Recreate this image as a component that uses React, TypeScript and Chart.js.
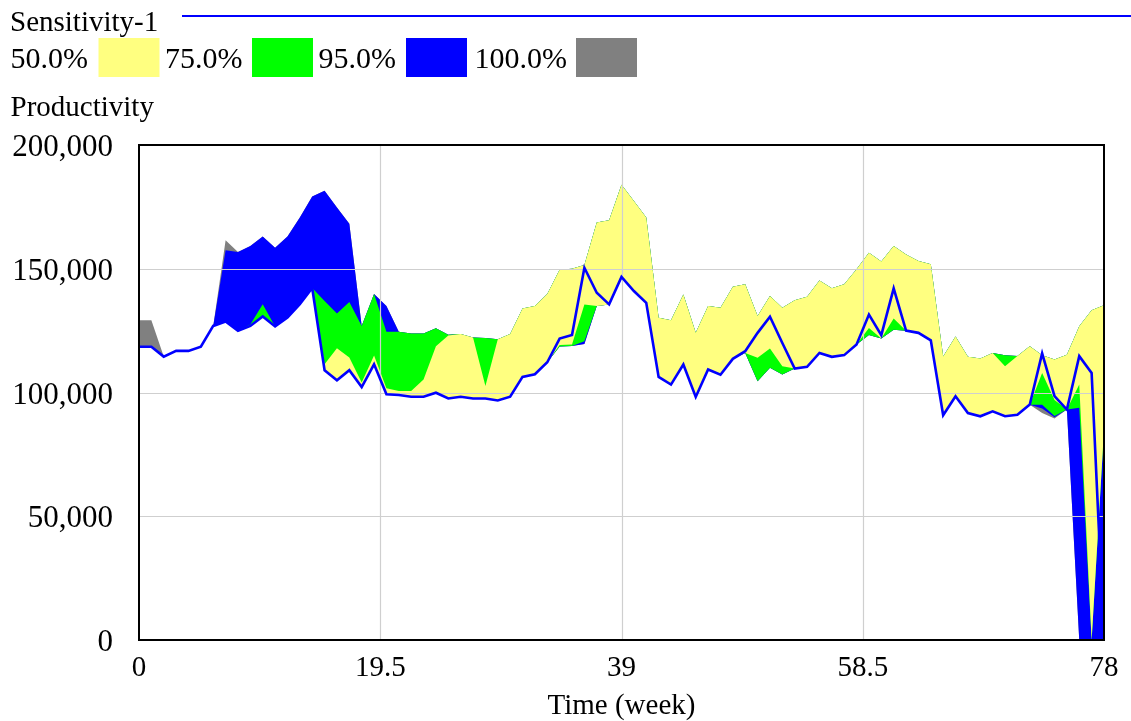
import React, { useEffect, useRef } from "react";
import { Chart, registerables } from "chart.js";

Chart.register(...registerables);

// Time axis (week)
const weeks = [
  0, 1, 2, 3, 4, 5, 6, 7, 8, 9, 10, 11, 12, 13, 14, 15, 16, 17, 18, 19,
  20, 21, 22, 23, 24, 25, 26, 27, 28, 29, 30, 31, 32, 33, 34, 35, 36, 37, 38, 39,
  40, 41, 42, 43, 44, 45, 46, 47, 48, 49, 50, 51, 52, 53, 54, 55, 56, 57, 58, 59,
  60, 61, 62, 63, 64, 65, 66, 67, 68, 69, 70, 71, 72, 73, 74, 75, 76, 77, 78,
];

const xTickValues = [0, 19.5, 39, 58.5, 78];
const yTickValues = [0, 50000, 100000, 150000, 200000];

// Base run: Sensitivity-1 Productivity
const baseLine = [
  118500, 118500, 114500, 116800, 116800, 118500, 126900, 128700, 124900, 126900,
  130700, 126700, 130300, 135700, 142200, 109000, 104900, 109000, 102200, 111400,
  99300, 99000, 98300, 98300, 99900, 97600, 98300, 97600, 97600, 96800,
  98300, 106300, 107400, 112200, 121800, 123200, 150400, 140300, 135600, 146700,
  141000, 136200, 106300, 103200, 111300, 98200, 109300, 107200, 113600, 116700,
  124100, 130600, 120000, 109700, 110400, 116000, 114400, 115100, 119400, 131500,
  123200, 142100, 125000, 124100, 121100, 90800, 98500, 91700, 90400, 92400,
  90400, 91000, 95100, 115800, 98500, 93100, 114700, 107900, 0,
];

// 50% band
const yellowHigh = [
  118500, 118500, 114500, 116800, 116800, 118500, 126900, 128700, 124900, 126900,
  130700, 126700, 130300, 135700, 142200, 111400, 117900, 114100, 104000, 115000,
  101700, 100600, 100600, 105300, 118700, 123000, 123600, 122200, 102600, 121500,
  123600, 133900, 135000, 139800, 149600, 150000, 151500, 168700, 169600, 183900,
  177400, 170700, 130200, 129200, 139600, 124100, 134900, 134200, 142700, 143700,
  130900, 139000, 134200, 137300, 138700, 145300, 142100, 143700, 149800, 156500,
  152900, 159200, 155800, 153100, 151800, 114500, 122600, 114400, 113700, 116000,
  110600, 114700, 118700, 115100, 113300, 115300, 126800, 133200, 135300,
];
const yellowLow = [
  118500, 118500, 114500, 116800, 116800, 118500, 126900, 128700, 124900, 126900,
  130700, 126700, 130300, 135700, 142200, 109000, 104900, 109000, 102200, 111400,
  99300, 99000, 98300, 98300, 99900, 97600, 98300, 97600, 97600, 96800,
  98300, 106300, 107400, 112200, 119200, 119400, 135600, 134900, 135600, 146700,
  141000, 136200, 106300, 103200, 111300, 98200, 109300, 107200, 113600, 116000,
  114000, 117800, 110600, 109700, 110400, 116000, 114400, 115100, 119400, 126100,
  121800, 129900, 125000, 124100, 121100, 90800, 98500, 91700, 90400, 92400,
  90400, 91000, 95100, 107900, 97000, 93100, 103200, 0, 85000,
];

// 75% band
const greenHigh = [
  118500, 118500, 114500, 116800, 116800, 118500, 126900, 128700, 124900, 127500,
  135700, 126700, 130300, 135700, 142200, 137000, 131900, 136600, 126900, 139800,
  124500, 124500, 123800, 123800, 126000, 123300, 123600, 122200, 122000, 121500,
  123600, 133900, 135000, 139800, 149600, 150000, 151500, 168700, 169600, 183900,
  177400, 170700, 130200, 129200, 139600, 124100, 134900, 134200, 142700, 143700,
  130900, 139000, 134200, 137300, 138700, 145300, 142100, 143700, 149800, 156500,
  152900, 159200, 155800, 153100, 151800, 114500, 122600, 114400, 113700, 116000,
  115100, 114700, 118700, 115100, 113300, 115300, 126800, 133200, 135300,
];
const greenLow = [
  118500, 118500, 114500, 116800, 116800, 118500, 126900, 128700, 124900, 126900,
  130700, 126700, 130300, 135700, 142200, 109000, 104900, 109000, 102200, 111400,
  99300, 99000, 98300, 98300, 99900, 97600, 98300, 97600, 97600, 96800,
  98300, 106300, 107400, 112200, 118600, 118800, 120700, 134900, 135600, 146700,
  141000, 136200, 106300, 103200, 111300, 98200, 109300, 107200, 113600, 116000,
  104500, 110000, 107300, 109700, 110400, 116000, 114400, 115100, 119400, 123200,
  121800, 125400, 125000, 124100, 121100, 90800, 98500, 91700, 90400, 92400,
  90400, 91000, 95100, 95100, 90500, 93100, 93800, 0, 85000,
];

// 95% band
const blueHigh = [
  118500, 118500, 114500, 116800, 116800, 118500, 126900, 157500, 156800, 159200,
  163000, 158500, 163000, 170700, 179200, 181500, 174700, 168200, 126900, 139800,
  135000, 124500, 123800, 123800, 126000, 123300, 123600, 122200, 122000, 121500,
  123600, 133900, 135000, 139800, 149600, 150000, 151500, 168700, 169600, 183900,
  177400, 170700, 130200, 129200, 139600, 124100, 134900, 134200, 142700, 143700,
  130900, 139000, 134200, 137300, 138700, 145300, 142100, 143700, 149800, 156500,
  152900, 159200, 155800, 153100, 151800, 114500, 122600, 114400, 113700, 116000,
  115100, 114700, 118700, 115100, 113300, 115300, 126800, 133200, 135300,
];
const blueLow = [
  118500, 118500, 114500, 116800, 116800, 118500, 126900, 128700, 124900, 126900,
  130700, 126700, 130300, 135700, 142200, 109000, 104900, 109000, 102200, 111400,
  99300, 99000, 98300, 98300, 99900, 97600, 98300, 97600, 97600, 96800,
  98300, 106300, 107400, 112200, 118600, 118800, 119600, 134900, 135600, 146700,
  141000, 136200, 106300, 103200, 111300, 98200, 109300, 107200, 113600, 116000,
  104500, 110000, 107300, 109700, 110400, 116000, 114400, 115100, 119400, 123200,
  121800, 125400, 125000, 124100, 121100, 90800, 98500, 91700, 90400, 92400,
  90400, 91000, 95100, 93500, 90000, 93100, 0, 0, 0,
];

// 100% band
const grayHigh = [
  129200, 129200, 114500, 116800, 116800, 118500, 126900, 161500, 156800, 159200,
  163000, 158500, 163000, 170700, 179200, 181500, 174700, 168200, 126900, 139800,
  135000, 124500, 123800, 123800, 126000, 123300, 123600, 122200, 122000, 121500,
  123600, 133900, 135000, 139800, 149600, 150000, 151500, 168700, 169600, 183900,
  177400, 170700, 130200, 129200, 139600, 124100, 134900, 134200, 142700, 143700,
  130900, 139000, 134200, 137300, 138700, 145300, 142100, 143700, 149800, 156500,
  152900, 159200, 155800, 153100, 151800, 114500, 122600, 114400, 113700, 116000,
  115100, 114700, 118700, 115100, 113300, 115300, 126800, 133200, 135300,
];
const grayLow = [
  118500, 118500, 114500, 116800, 116800, 118500, 126900, 128700, 124900, 126900,
  130700, 126700, 130300, 135700, 142200, 109000, 104900, 109000, 102200, 111400,
  99300, 99000, 98300, 98300, 99900, 97600, 98300, 97600, 97600, 96800,
  98300, 106300, 107400, 112200, 118600, 118800, 119600, 134900, 135600, 146700,
  141000, 136200, 106300, 103200, 111300, 98200, 109300, 107200, 113600, 116000,
  104500, 110000, 107300, 109700, 110400, 116000, 114400, 115100, 119400, 123200,
  121800, 125400, 125000, 124100, 121100, 90800, 98500, 91700, 90400, 92400,
  90400, 91000, 95100, 91700, 89500, 93100, 0, 0, 0,
];

const legendLabels = ["50.0%", "75.0%", "95.0%", "100.0%"];
const legendColors = ["#FFFF80", "#00FF00", "#0000FF", "#808080"];
const legendTextX = [10.5, 165, 318.5, 474.5];
const legendBoxX = [98.5, 252, 406, 576];

const FONT = '"Liberation Serif", "Times New Roman", serif';
const FONT_SIZE = 29;

function band(data: number[], color: string, fill: string | boolean) {
  return {
    data,
    borderColor: "rgba(0,0,0,0)",
    borderWidth: 0,
    backgroundColor: color,
    pointRadius: 0,
    pointHoverRadius: 0,
    tension: 0,
    fill,
  };
}

export default function App() {
  const canvasRef = useRef<HTMLCanvasElement | null>(null);

  useEffect(() => {
    const canvas = canvasRef.current;
    if (!canvas) return;

    const overlay = {
      id: "vensimOverlay",
      beforeDatasetDraw(chart: any, args: any) {
        if (args.index !== 0) return;
        const { ctx, chartArea } = chart;
        const xs = chart.scales.x;
        const ys = chart.scales.y;
        ctx.save();
        ctx.strokeStyle = "#cfcfcf";
        ctx.lineWidth = 1.2;
        ctx.beginPath();
        for (const v of xTickValues) {
          if (v === 0 || v === 78) continue;
          const px = Math.round(xs.getPixelForValue(v)) + 0.5;
          ctx.moveTo(px, chartArea.top);
          ctx.lineTo(px, chartArea.bottom);
        }
        for (const v of yTickValues) {
          if (v === 0 || v === 200000) continue;
          const py = Math.round(ys.getPixelForValue(v)) + 0.5;
          ctx.moveTo(chartArea.left, py);
          ctx.lineTo(chartArea.right, py);
        }
        ctx.stroke();
        ctx.restore();
      },
      afterDraw(chart: any) {
        const { ctx, chartArea } = chart;
        ctx.save();
        // plot frame
        ctx.strokeStyle = "#000";
        ctx.lineWidth = 2;
        ctx.strokeRect(chartArea.left, chartArea.top, chartArea.right - chartArea.left, chartArea.bottom - chartArea.top);

        ctx.fillStyle = "#000";
        ctx.font = `${FONT_SIZE}px ${FONT}`;
        ctx.textBaseline = "alphabetic";
        ctx.textAlign = "left";
        ctx.fillText("Sensitivity-1", 10, 31);

        ctx.strokeStyle = "#0000FF";
        ctx.lineWidth = 2;
        ctx.beginPath();
        ctx.moveTo(182, 16);
        ctx.lineTo(1131, 16);
        ctx.stroke();

        ctx.font = `30px ${FONT}`;
        for (let i = 0; i < legendLabels.length; i++) {
          ctx.fillStyle = "#000";
          ctx.fillText(legendLabels[i], legendTextX[i], 68);
          ctx.fillStyle = legendColors[i];
          ctx.fillRect(legendBoxX[i], 38, 61, 39);
        }

        ctx.font = `${FONT_SIZE}px ${FONT}`;
        ctx.fillStyle = "#000";
        ctx.fillText("Productivity", 10.5, 116);

        ctx.textAlign = "center";
        ctx.fillText("Time (week)", (chartArea.left + chartArea.right) / 2, 714);
        ctx.restore();
      },
    };

    const chart = new Chart(canvas, {
      type: "line",
      data: {
        labels: weeks,
        datasets: [
          {
            data: baseLine,
            borderColor: "#0000FF",
            borderWidth: 2.6,
            pointRadius: 0,
            pointHoverRadius: 0,
            tension: 0,
            fill: false,
          },
          band(yellowLow, "#FFFF80", false),
          band(yellowHigh, "#FFFF80", "-1"),
          band(greenLow, "#00FF00", false),
          band(greenHigh, "#00FF00", "-1"),
          band(blueLow, "#0000FF", false),
          band(blueHigh, "#0000FF", "-1"),
          band(grayLow, "#808080", false),
          band(grayHigh, "#808080", "-1"),
        ] as any,
      },
      options: {
        responsive: false,
        animation: false,
        devicePixelRatio: 1,
        events: [],
        layout: { padding: { top: 145, right: 27, left: 0, bottom: 0 } },
        plugins: {
          legend: { display: false },
          tooltip: { enabled: false },
          title: { display: false },
        },
        scales: {
          x: {
            type: "linear",
            min: 0,
            max: 78,
            afterBuildTicks: (s: any) => {
              s.ticks = xTickValues.map((v) => ({ value: v }));
            },
            afterFit: (s: any) => {
              s.height = 81;
            },
            ticks: {
              autoSkip: false,
              maxRotation: 0,
              padding: 11,
              color: "#000",
              font: { family: FONT, size: FONT_SIZE },
              callback: (v: any) => String(v),
            },
            grid: { display: false, drawTicks: false },
            border: { display: false },
          },
          y: {
            min: 0,
            max: 200000,
            afterBuildTicks: (s: any) => {
              s.ticks = yTickValues.map((v) => ({ value: v }));
            },
            afterFit: (s: any) => {
              s.width = 139;
            },
            ticks: {
              padding: 26,
              labelOffset: 3,
              color: "#000",
              font: { family: FONT, size: 31 },
              callback: (v: any) => Number(v).toLocaleString("en-US"),
            },
            grid: { display: false, drawTicks: false },
            border: { display: false },
          },
        },
      } as any,
      plugins: [overlay],
    });

    return () => chart.destroy();
  }, []);

  return (
    <div style={{ position: "fixed", left: 0, top: 0, width: 1131, height: 721, background: "#fff" }}>
      <canvas ref={canvasRef} width={1131} height={721} style={{ display: "block", width: 1131, height: 721 }} />
    </div>
  );
}
